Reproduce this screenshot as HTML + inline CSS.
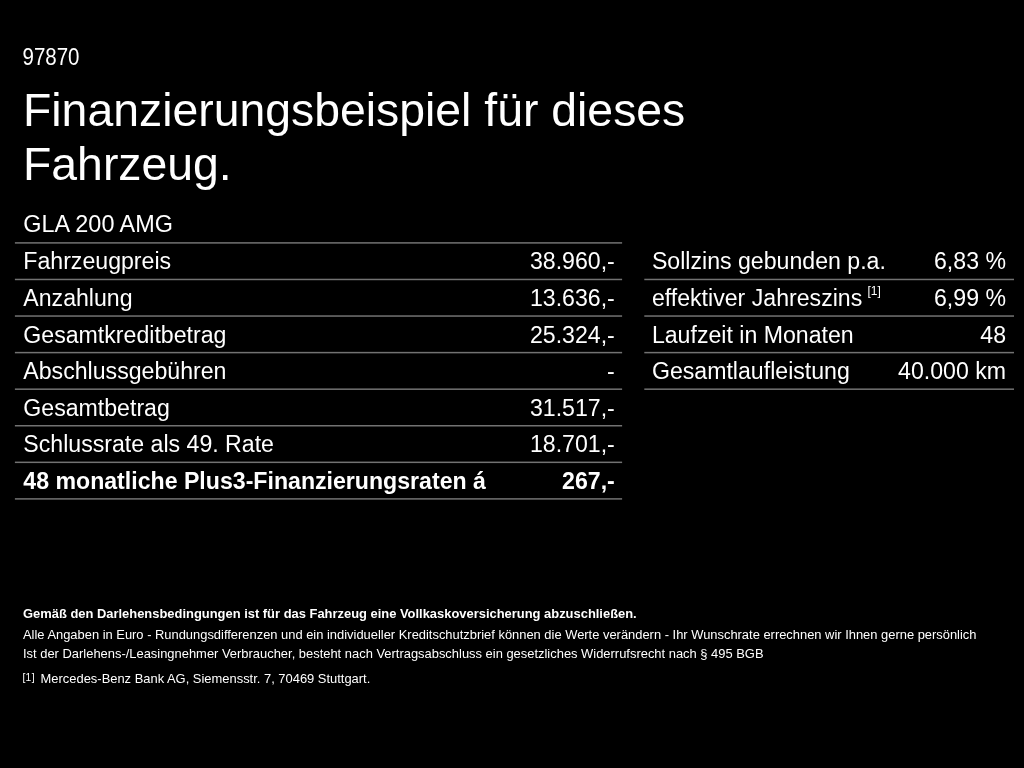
<!DOCTYPE html>
<html lang="de"><head><meta charset="utf-8"><title>Finanzierungsbeispiel</title>
<style>
html,body{margin:0;padding:0;background:#000;}
body{width:1024px;height:768px;overflow:hidden;position:relative;color:#fff;font-family:"Liberation Sans",sans-serif;}
#wrap{position:absolute;left:0;top:0;width:1024px;height:768px;filter:grayscale(1) blur(0.6px);}
.t{position:absolute;white-space:nowrap;line-height:1;margin:0;}
.id{left:22.5px;top:48.2px;font-size:20.5px;transform:scaleY(1.13);transform-origin:0 84.65%;}
.h1{left:23px;font-size:46.36px;font-weight:400;}
.tb{font-size:23.14px;}
.l{left:23.3px;}
.rl{right:409.2px;text-align:right;}
.l2{left:651.9px;}
.rr{right:18px;text-align:right;}
.b{font-weight:700;}
.hr{position:absolute;height:1.3px;background:#727272;}
.hl{left:14.9px;width:607.4px;}
.hr2{left:644.4px;width:369.6px;}
.ft{font-size:12.93px;left:23px;}
sup{font-size:12px;vertical-align:baseline;position:relative;top:-11px;margin-left:5.2px;line-height:0;}
</style></head><body><div id="wrap">
<div class="t id">97870</div>
<h1 class="t h1" style="top:87px">Finanzierungsbeispiel für dieses</h1>
<h1 class="t h1" style="top:141px">Fahrzeug.</h1>
<div class="t tb l" style="top:212.8px;font-size:23.42px">GLA 200 AMG</div>

<svg style="position:absolute;left:0;top:0" width="1024" height="768" viewBox="0 0 1024 768"><rect x="14.9" y="242.15" width="607.2" height="1.50" fill="#727272"/><rect x="14.9" y="278.72" width="607.2" height="1.50" fill="#727272"/><rect x="14.9" y="315.29" width="607.2" height="1.50" fill="#727272"/><rect x="14.9" y="351.86" width="607.2" height="1.50" fill="#727272"/><rect x="14.9" y="388.43" width="607.2" height="1.50" fill="#727272"/><rect x="14.9" y="425.00" width="607.2" height="1.50" fill="#727272"/><rect x="14.9" y="461.58" width="607.2" height="1.50" fill="#727272"/><rect x="14.9" y="498.15" width="607.2" height="1.50" fill="#727272"/><rect x="644.3" y="278.72" width="369.7" height="1.50" fill="#727272"/><rect x="644.3" y="315.29" width="369.7" height="1.50" fill="#727272"/><rect x="644.3" y="351.86" width="369.7" height="1.50" fill="#727272"/><rect x="644.3" y="388.43" width="369.7" height="1.50" fill="#727272"/></svg>
<div class="t tb l" style="top:250.40px">Fahrzeugpreis</div><div class="t tb rl" style="top:250.40px">38.960,-</div>
<div class="t tb l" style="top:286.97px">Anzahlung</div><div class="t tb rl" style="top:286.97px">13.636,-</div>
<div class="t tb l" style="top:323.54px">Gesamtkreditbetrag</div><div class="t tb rl" style="top:323.54px">25.324,-</div>
<div class="t tb l" style="top:360.11px">Abschlussgebühren</div><div class="t tb rl" style="top:360.11px">-</div>
<div class="t tb l" style="top:396.68px">Gesamtbetrag</div><div class="t tb rl" style="top:396.68px">31.517,-</div>
<div class="t tb l" style="top:433.25px">Schlussrate als 49. Rate</div><div class="t tb rl" style="top:433.25px">18.701,-</div>
<div class="t tb l b" style="top:469.83px">48 monatliche Plus3-Finanzierungsraten á</div><div class="t tb rl b" style="top:469.83px">267,-</div>
<div class="t tb l2" style="top:250.40px">Sollzins gebunden p.a.</div><div class="t tb rr" style="top:250.40px">6,83 %</div>
<div class="t tb l2" style="top:286.97px">effektiver Jahreszins<sup>[1]</sup></div><div class="t tb rr" style="top:286.97px">6,99 %</div>
<div class="t tb l2" style="top:323.54px">Laufzeit in Monaten</div><div class="t tb rr" style="top:323.54px">48</div>
<div class="t tb l2" style="top:360.11px">Gesamtlaufleistung</div><div class="t tb rr" style="top:360.11px">40.000 km</div>
<div class="t ft b" style="top:608.3px">Gemäß den Darlehensbedingungen ist für das Fahrzeug eine Vollkaskoversicherung abzuschließen.</div>
<div class="t ft" style="top:629px;font-size:12.915px">Alle Angaben in Euro - Rundungsdifferenzen und ein individueller Kreditschutzbrief können die Werte verändern - Ihr Wunschrate errechnen wir Ihnen gerne persönlich</div>
<div class="t ft" style="top:648px">Ist der Darlehens-/Leasingnehmer Verbraucher, besteht nach Vertragsabschluss ein gesetzliches Widerrufsrecht nach § 495 BGB</div>
<div class="t" style="left:22.4px;top:673.2px;font-size:10.3px;letter-spacing:0.35px">[1]</div>
<div class="t ft" style="left:40.6px;top:673px">Mercedes-Benz Bank AG, Siemensstr. 7, 70469 Stuttgart.</div>
</div></body></html>
